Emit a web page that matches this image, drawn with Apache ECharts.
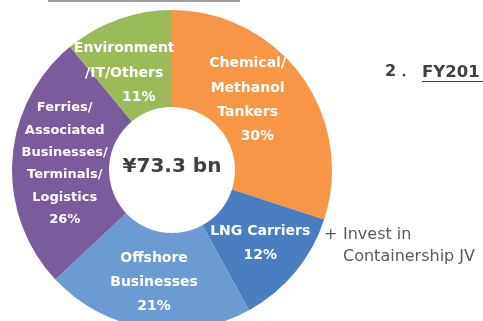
<!DOCTYPE html>
<html>
<head>
<meta charset="utf-8">
<style>
  html, body { margin: 0; padding: 0; background: #ffffff; }
  #chart { width: 483px; height: 321px; }
</style>
<script src="https://cdn.jsdelivr.net/npm/echarts@6/dist/echarts.min.js"></script>
</head>
<body>
<div id="chart"></div>
<script>
// Segment names (label text) and their shares of the total, in percent
const segments = [
  'Chemical/\nMethanol\nTankers',
  'LNG Carriers',
  'Offshore\nBusinesses',
  'Ferries/\nAssociated\nBusinesses/\nTerminals/\nLogistics',
  'Environment\n/IT/Others'
];
const shares = [30, 12, 21, 26, 11];
const segmentColors = ['#F79646', '#4A7EC1', '#6C9AD3', '#7A5B9C', '#9BBB59'];
const totalLabel = '¥73.3 bn';
const notePlus = '+';
const noteText = 'Invest in\nContainership JV';
const headingNum = '2．';
const headingText = 'FY201';

// per-label layout tweaks: nudge [dx, dy], font size, line height, percent indent
const labelNudge = [[-17, -2.5], [0, 0], [0, -1], [7, 1], [-9, 11]];
const labelSize = [14, 14, 14, 13, 14];
const labelLine = [24.3, 24, 24, 22.4, 24.5];
const pctIndent = [4, 0, 0, 0, 6];

const chart = echarts.init(document.getElementById('chart'), null, { renderer: 'canvas' });

const font = 'DejaVu Sans, Verdana, sans-serif';

chart.setOption({
  animation: false,
  backgroundColor: '#ffffff',
  series: [{
    type: 'pie',
    center: [172, 170],
    radius: [63, 160],
    startAngle: 90,
    clockwise: true,
    avoidLabelOverlap: false,
    itemStyle: { borderWidth: 0 },
    label: {
      show: true,
      position: 'inside',
      color: '#ffffff',
      fontFamily: font,
      fontWeight: 'bold',
      fontSize: 14,
      lineHeight: 24,
      align: 'center',
      formatter: p => p.name + '\n' + ' '.repeat(pctIndent[p.dataIndex]) + p.value + '%'
    },
    labelLayout: p => ({ dx: labelNudge[p.dataIndex][0], dy: labelNudge[p.dataIndex][1] }),
    data: segments.map((n, i) => ({
      name: n,
      value: shares[i],
      itemStyle: { color: segmentColors[i] },
      label: { fontSize: labelSize[i], lineHeight: labelLine[i] }
    }))
  }],
  graphic: [
    {
      type: 'text',
      style: {
        text: totalLabel, x: 172, y: 167,
        align: 'center', verticalAlign: 'middle',
        fill: '#404040', font: 'bold 20px ' + font
      }
    },
    {
      type: 'text',
      style: {
        text: notePlus, x: 324, y: 224,
        fill: '#595959', font: '16px ' + font, lineHeight: 22
      }
    },
    {
      type: 'text',
      style: {
        text: noteText, x: 343, y: 224,
        fill: '#595959', font: '16px ' + font, lineHeight: 22
      }
    },
    {
      type: 'text',
      style: {
        text: headingNum, x: 385, y: 64,
        fill: '#404040', font: 'bold 16px ' + font
      }
    },
    {
      type: 'text',
      style: {
        text: headingText, x: 422, y: 64,
        fill: '#404040', font: 'bold 16.5px ' + font
      }
    },
    {
      type: 'line',
      shape: { x1: 422, y1: 81.5, x2: 483, y2: 81.5 },
      style: { stroke: '#404040', lineWidth: 1 }
    },
    {
      type: 'line',
      shape: { x1: 48, y1: 1, x2: 240, y2: 1 },
      style: { stroke: '#7f7f7f', lineWidth: 1.5 }
    }
  ]
});
</script>
</body>
</html>
